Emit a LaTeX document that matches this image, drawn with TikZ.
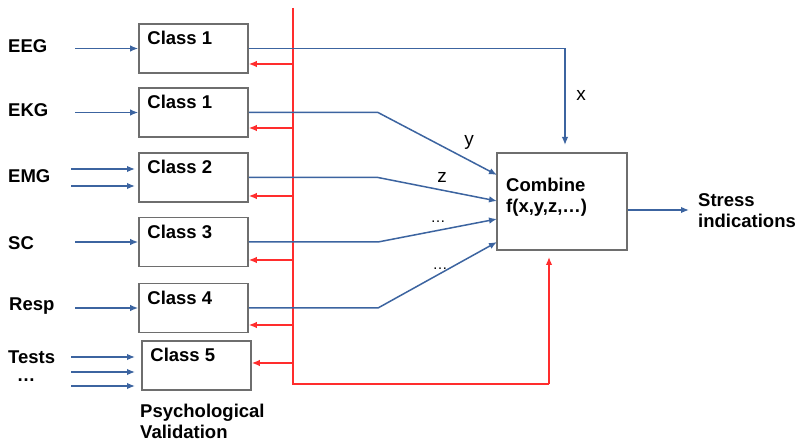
\documentclass[tikz,border=0pt]{standalone}
\usepackage{fontspec}
\setmainfont{Liberation Sans}
\usetikzlibrary{arrows.meta}
\definecolor{sigblue}{RGB}{60,100,160}
\definecolor{fbred}{RGB}{255,45,45}
\definecolor{boxgray}{RGB}{110,110,110}
\begin{document}
\begin{tikzpicture}[x=1pt,y=-1pt,
  classbox/.style={draw=boxgray,line width=1.6pt,fill=white,minimum width=109pt,minimum height=49pt,inner sep=0pt},
  combbox/.style={draw=boxgray,line width=1.6pt,fill=white,minimum width=130pt,minimum height=97pt,inner sep=0pt},
  lbl/.style={font=\fontsize{18.5}{22}\selectfont\bfseries,inner sep=0pt},
  boxtxt/.style={lbl,anchor=west},
  vlbl/.style={font=\fontsize{19}{22}\selectfont,inner sep=0pt},
  dotlbl/.style={font=\fontsize{15}{18}\selectfont,inner sep=0pt},
  sig/.style={draw=sigblue,line width=1.5pt},
  sigarrow/.style={sig,-{Latex[length=8pt,width=6.5pt]}},
  fb/.style={draw=fbred,line width=1.4pt},
  fbarrow/.style={fb,-{Latex[length=8pt,width=6.5pt]}}]
\useasboundingbox[fill=white] (0,0) rectangle (801,446);

% classifier boxes
\node[classbox] (b1) at (193.5,48.5) {};
\node[classbox] (b2) at (193.5,112.5) {};
\node[classbox] (b3) at (193.5,177.5) {};
\node[classbox] (b4) at (193.5,242) {};
\node[classbox] (b5) at (193.5,308) {};
\node[classbox] (b6) at (196.5,365.5) {};
\node[boxtxt] (c1) at ([shift={(9,15)}]b1.north west) {Class 1};
\node[boxtxt] (c2) at ([shift={(9,15)}]b2.north west) {Class 1};
\node[boxtxt] (c3) at ([shift={(9,15)}]b3.north west) {Class 2};
\node[boxtxt] (c4) at ([shift={(9,15)}]b4.north west) {Class 3};
\node[boxtxt] (c5) at ([shift={(9,15)}]b5.north west) {Class 4};
\node[boxtxt] (c6) at ([shift={(9,15)}]b6.north west) {Class 5};

% combining stage
\node[combbox] (cmb) at (562,201.5) {};
\node[lbl,anchor=west,align=left] (cmbtxt) at (506,197) {Combine\\[-1pt]f(x,y,z,…)};
\node[lbl,anchor=west,align=left] (out) at (698,211) {Stress\\[-1pt]indications};

% signal names
\node[lbl,anchor=west] (eeg) at (8,46) {EEG};
\node[lbl,anchor=west] (ekg) at (8,110) {EKG};
\node[lbl,anchor=west] (emg) at (8,176) {EMG};
\node[lbl,anchor=west] (sc) at (8,243) {SC};
\node[lbl,anchor=west] (resp) at (9,306) {Resp};
\node[lbl,anchor=west] (tests) at (8,357) {Tests};
\node[lbl] (more) at (26,380) {…};
\node[lbl,anchor=north west,align=left] (psy) at (140,404) {Psychological\\[-1pt]Validation};

% input arrows
\coordinate (i1) at (75,48.5);
\coordinate (i2) at (75,112.5);
\coordinate (i3a) at (71,169);
\coordinate (i3b) at (71,186);
\coordinate (e3a) at (135,169);
\coordinate (e3b) at (135,186);
\coordinate (i4) at (75,242);
\coordinate (i5) at (75,308);
\coordinate (i6a) at (71,357);
\coordinate (i6b) at (71,372);
\coordinate (i6c) at (71,386);
\coordinate (e6a) at (135,357);
\coordinate (e6b) at (135,372);
\coordinate (e6c) at (135,386);
\draw[sigarrow] (i1) -- (b1.west);
\draw[sigarrow] (i2) -- (b2.west);
\draw[sigarrow] (i3a) -- (e3a);
\draw[sigarrow] (i3b) -- (e3b);
\draw[sigarrow] (i4) -- (b4.west);
\draw[sigarrow] (i5) -- (b5.west);
\draw[sigarrow] (i6a) -- (e6a);
\draw[sigarrow] (i6b) -- (e6b);
\draw[sigarrow] (i6c) -- (e6c);

% validation feedback bus
\coordinate (bustop) at (293,8);
\coordinate (busbot) at (293,384);
\coordinate (buscorner) at (549,384);
\coordinate (bustip) at (549,257);
\draw[fb] (bustop) -- (busbot) -- (buscorner);
\draw[fbarrow] (buscorner) -- (bustip);
\coordinate (f1) at (293,64);
\coordinate (f2) at (293,128);
\coordinate (f3) at (293,196);
\coordinate (f4) at (293,260);
\coordinate (f5) at (293,325);
\coordinate (f6) at (293,363);
\draw[fbarrow] (f1) -- (f1 -| b1.east);
\draw[fbarrow] (f2) -- (f2 -| b2.east);
\draw[fbarrow] (f3) -- (f3 -| b3.east);
\draw[fbarrow] (f4) -- (f4 -| b4.east);
\draw[fbarrow] (f5) -- (f5 -| b5.east);
\draw[fbarrow] (f6) -- (f6 -| b6.east);

% classifier outputs into the combiner
\coordinate (xtip) at (565,145);
\coordinate (bend) at (378,0);
\coordinate (t2) at (497,175);
\coordinate (t3) at (497,201);
\coordinate (t4) at (497,219);
\coordinate (t5) at (497,242);
\draw[sigarrow] (b1.east) -| (xtip);
\draw[sigarrow] (b2.east) -- (b2.east -| bend) -- (t2);
\draw[sigarrow] (b3.east) -- (b3.east -| bend) -- (t3);
\draw[sigarrow] (b4.east) -- (b4.east -| bend) -- (t4);
\draw[sigarrow] (b5.east) -- (b5.east -| bend) -- (t5);
\coordinate (otip) at (689,210);
\draw[sigarrow] (cmb.east |- otip) -- (otip);

% input variable labels
\node[vlbl] (lx) at (581,95) {x};
\node[vlbl] (ly) at (469,142) {y};
\node[vlbl] (lz) at (442,177) {z};
\node[dotlbl] (ld1) at (438,222) {…};
\node[dotlbl] (ld2) at (440,269) {…};
\end{tikzpicture}
\end{document}
